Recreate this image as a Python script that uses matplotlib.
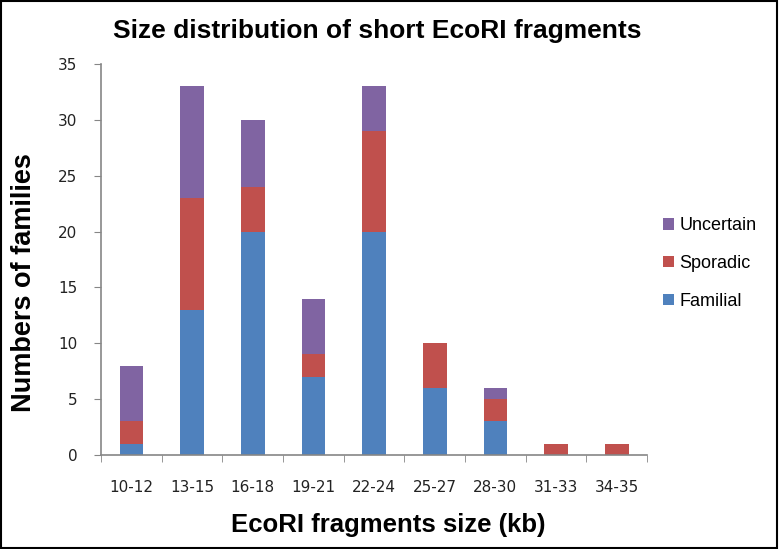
import matplotlib
matplotlib.use("Agg")
import matplotlib.pyplot as plt
from matplotlib.patches import Rectangle
import numpy as np

categories = ["10-12", "13-15", "16-18", "19-21", "22-24", "25-27", "28-30", "31-33", "34-35"]
familial = [1, 13, 20, 7, 20, 6, 3, 0, 0]
sporadic = [2, 10, 4, 2, 9, 4, 2, 1, 1]
uncertain = [5, 10, 6, 5, 4, 0, 1, 0, 0]

BLUE = "#4F81BD"
RED = "#C0504D"
PURPLE = "#8064A2"
GRAY = "#868686"
ARIAL = "Liberation Sans"

fig = plt.figure(figsize=(7.79, 5.49), dpi=100)
ax = fig.add_axes([0.1297, 0.1712, 0.7009, 0.7122])

x = np.arange(len(categories))
fam = np.array(familial)
spo = np.array(sporadic)
unc = np.array(uncertain)
w = 0.39
ax.bar(x, fam, w, color=BLUE, label="Familial")
ax.bar(x, spo, w, bottom=fam, color=RED, label="Sporadic")
ax.bar(x, unc, w, bottom=fam + spo, color=PURPLE, label="Uncertain")

ax.set_xlim(-0.5, len(categories) - 0.5)
ax.set_ylim(0, 35)
ax.set_yticks(range(0, 36, 5))
ax.set_xticks(x)
ax.set_xticklabels(categories)
ax.set_xticks(np.arange(-0.5, len(categories), 1), minor=True)
ax.tick_params(axis="x", which="major", length=0, pad=18, labelsize=11, labelcolor="#222222")
ax.tick_params(axis="x", which="minor", length=5, color=GRAY, direction="out")
ax.tick_params(axis="y", length=5, color=GRAY, labelsize=11, pad=12, labelcolor="#222222")

for s in ["top", "right"]:
    ax.spines[s].set_visible(False)
for s in ["left", "bottom"]:
    ax.spines[s].set_color(GRAY)
    ax.spines[s].set_linewidth(1.2)

ax.set_xlabel("EcoRI fragments size (kb)", fontsize=18.5, fontweight="bold", family=ARIAL)
ax.xaxis.set_label_coords(0.526, -0.148)
ax.set_ylabel("Numbers of families", fontsize=19.5, fontweight="bold", family=ARIAL)
ax.yaxis.set_label_coords(-0.117, 0.44)
fig.text(0.484, 0.944, "Size distribution of short EcoRI fragments", ha="center", va="center",
         fontsize=19, fontweight="bold", family=ARIAL)

handles, labels = ax.get_legend_handles_labels()
ax.legend(handles[::-1], labels[::-1], loc="center left", bbox_to_anchor=(1.0, 0.49),
          frameon=False, prop={"family": ARIAL, "size": 13}, handlelength=0.6,
          handleheight=0.6, handletextpad=0.3, labelspacing=1.15)

fig.patches.append(Rectangle((0.001, 0.001), 0.997, 0.997, transform=fig.transFigure,
                             fill=False, edgecolor="black", linewidth=1.5))

fig.savefig("out.png", dpi=100)
